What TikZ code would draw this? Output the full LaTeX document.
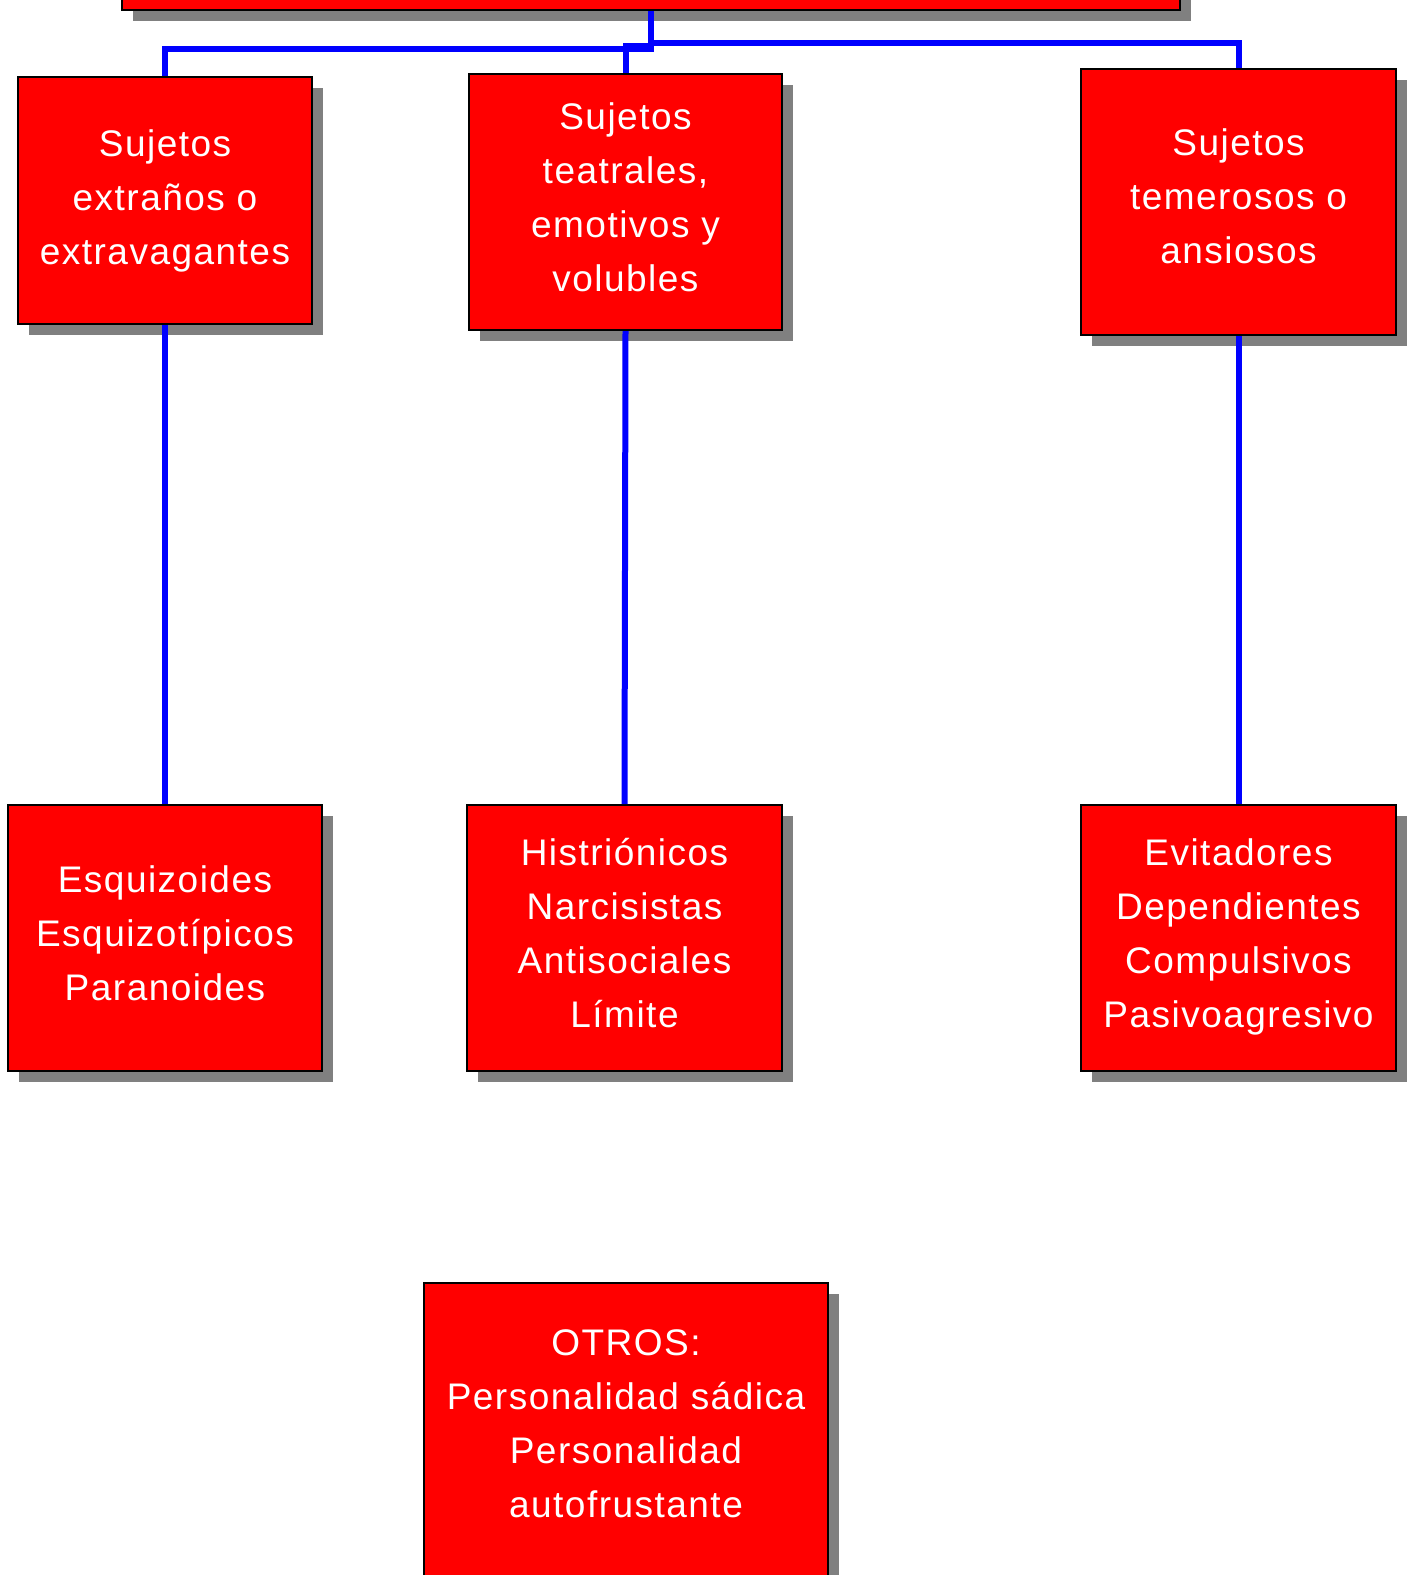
\documentclass[tikz,border=0pt]{standalone}
\usepackage{fontspec}
\setmainfont{Liberation Sans}[LetterSpace=4]
\usetikzlibrary{shadows}
\definecolor{boxred}{RGB}{255,0,0}
\definecolor{shgray}{RGB}{128,128,128}
\definecolor{connblue}{RGB}{0,0,255}
\tikzset{
  redbox/.style={draw=black, line width=2pt, fill=boxred, inner sep=0pt,
    drop shadow={shadow xshift=11pt, shadow yshift=-11pt, fill=shgray, opacity=1}},
  boxtext/.style={text=white, align=center, inner sep=0pt,
    font=\fontsize{37}{54}\selectfont},
  conn/.style={draw=connblue, line width=6pt, line join=miter}
}
\begin{document}
\begin{tikzpicture}[x=1pt,y=-1pt]
\useasboundingbox (0,0) rectangle (1413,1575);
\clip (0,0) rectangle (1413,1575);
% root (cut off at top)
\node[redbox, minimum width=1058pt, minimum height=70pt] (root) at (651,-25) {};
% middle level
\node[redbox, minimum width=294pt, minimum height=247pt] (B1) at (165,200.5) {};
\node[boxtext] (B1t) at ([yshift=0pt]B1.center) {Sujetos\\extraños o\\extravagantes};
\node[redbox, minimum width=313pt, minimum height=256pt] (B2) at (625.5,202) {};
\node[boxtext] (B2t) at ([yshift=5pt]B2.center) {Sujetos\\teatrales,\\emotivos y\\volubles};
\node[redbox, minimum width=315pt, minimum height=266pt] (B3) at (1238.5,202) {};
\node[boxtext] (B3t) at ([yshift=5.5pt]B3.center) {Sujetos\\temerosos o\\ansiosos};
% bottom level
\node[redbox, minimum width=314pt, minimum height=266pt] (C1) at (165,938) {};
\node[boxtext] (C1t) at ([yshift=4.5pt]C1.center) {Esquizoides\\Esquizotípicos\\Paranoides};
\node[redbox, minimum width=315pt, minimum height=266pt] (C2) at (624.5,938) {};
\node[boxtext] (C2t) at ([yshift=4.5pt]C2.center) {Histriónicos\\Narcisistas\\Antisociales\\Límite};
\node[redbox, minimum width=315pt, minimum height=266pt] (C3) at (1238.5,938) {};
\node[boxtext] (C3t) at ([yshift=1.5pt]C3.center) {Evitadores\\Dependientes\\Compulsivos\\Pasivoagresivo};
% others
\node[redbox, minimum width=404pt, minimum height=400pt, anchor=north] (D) at (626,1282) {};
\node[boxtext] (Dt) at (626,1423.5) {OTROS:\\Personalidad sádica\\Personalidad\\autofrustante};
% connectors
\draw[conn] (root.south) -- ++(0,38) -| (B1.north);
\draw[conn] (root.south) -- ++(0,35) -| (B2.north);
\draw[conn] (root.south) -- ++(0,32) -| (B3.north);
\draw[conn] (B1.south) -- (C1.north);
\draw[conn] (B2.south) -- (C2.north);
\draw[conn] (B3.south) -- (C3.north);
\end{tikzpicture}
\end{document}
